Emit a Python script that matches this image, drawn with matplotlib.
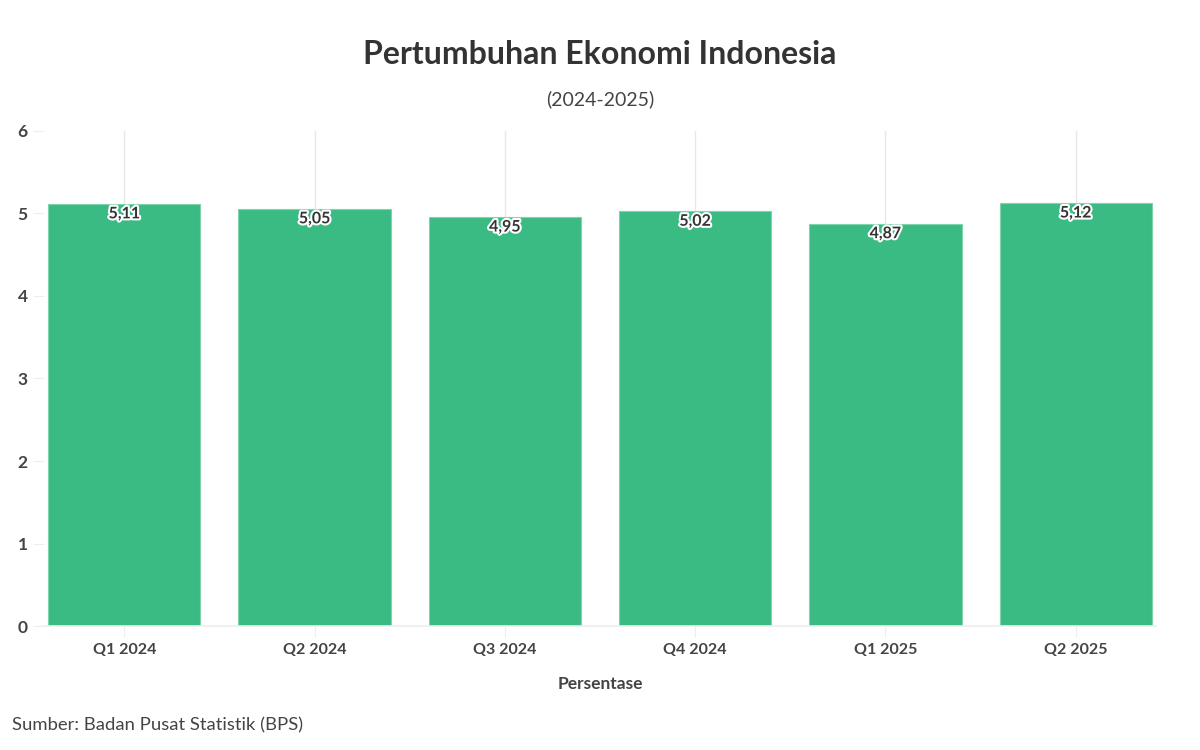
#!/usr/bin/env python3
import matplotlib
matplotlib.use("Agg")
import matplotlib.pyplot as plt
import matplotlib.patheffects as pe

quarters = ["Q1 2024", "Q2 2024", "Q3 2024", "Q4 2024", "Q1 2025", "Q2 2025"]
growth = [5.11, 5.05, 4.95, 5.02, 4.87, 5.12]
y_ticks = [0, 1, 2, 3, 4, 5, 6]

plt.rcParams["font.family"] = ["Lato", "DejaVu Sans"]

fig = plt.figure(figsize=(12, 7.5), dpi=100)
ax = fig.add_axes([0.037, 0.165, 0.926, 0.661])

x = list(range(len(quarters)))
ax.bar(x, growth, width=0.8, color="#33b97f", alpha=0.96,
       edgecolor="#7fd3ad", linewidth=0.8, zorder=2)

for xi, v in zip(x, growth):
    ax.text(xi, v - 0.04, f"{v:.2f}".replace(".", ","), ha="center", va="top",
            fontsize=11.5, fontweight="bold", color="#333333", zorder=4,
            path_effects=[pe.withStroke(linewidth=3, foreground="white")])

ax.set_xlim(-0.42, 5.42)
ax.set_ylim(0, 6)
ax.set_yticks(y_ticks)
ax.set_xticks(x)
ax.set_xticklabels(quarters, fontsize=11.5, fontweight="bold", color="#444444")
ax.set_yticklabels([str(t) for t in y_ticks], fontsize=12.5, fontweight="bold",
                   color="#444444")
ax.grid(axis="x", color="#e8e8e8", linewidth=1, zorder=1)
ax.grid(axis="y", visible=False)
for side in ["top", "right", "left"]:
    ax.spines[side].set_visible(False)
ax.spines["bottom"].set_color("#eeeeee")
ax.spines["bottom"].set_linewidth(1.2)
ax.tick_params(axis="y", length=8, color="#eeeeee", pad=4)
ax.tick_params(axis="x", length=8, color="#eeeeee", pad=4)
ax.set_xlabel("Persentase", fontsize=12.5, fontweight="bold", color="#444444",
              labelpad=14)

fig.text(0.5, 0.928, "Pertumbuhan Ekonomi Indonesia", ha="center", va="center",
         fontsize=23, fontweight="bold", color="#333333")
fig.text(0.5, 0.868, "(2024-2025)", ha="center", va="center",
         fontsize=14, color="#444444")
fig.text(0.01, 0.033, "Sumber: Badan Pusat Statistik (BPS)", ha="left",
         va="center", fontsize=13.3, color="#444444")

fig.savefig("out.png", dpi=100, facecolor="white")
